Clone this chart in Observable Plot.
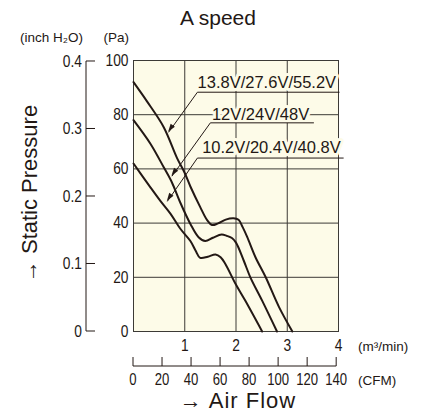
<!DOCTYPE html>
<html><head><meta charset="utf-8">
<script src="https://cdn.jsdelivr.net/npm/d3@7"></script>
<script src="https://cdn.jsdelivr.net/npm/@observablehq/plot@0.6"></script>
<style>
html,body{margin:0;padding:0;background:#fff;}
#chart{width:423px;height:414px;}
</style></head><body><div id="chart"></div>
<script>
// ---- data ----
const seriesNames = ["13.8V/27.6V/55.2V", "12V/24V/48V", "10.2V/20.4V/40.8V"];
const flowHigh = [0, 0.26, 0.59, 0.85, 1.0, 1.11, 1.3, 1.44, 1.53, 1.65, 1.8, 1.95, 2.05, 2.13, 2.22, 2.38, 2.58, 2.84, 3.1];
const paHigh   = [92, 85, 75.4, 64, 58.5, 53.5, 46, 41, 39.3, 39.9, 41.3, 41.8, 41.2, 38.5, 34.8, 27.4, 20, 9, 0];
const flowMid  = [0, 0.33, 0.59, 0.75, 0.91, 1.11, 1.27, 1.4, 1.55, 1.72, 1.82, 1.92, 2.0, 2.15, 2.28, 2.51, 2.8];
const paMid    = [78, 69.3, 60.6, 55, 47.7, 39.7, 34.8, 33.4, 34.6, 35.8, 35.3, 34.5, 32.8, 26.2, 20, 11.4, 0];
const flowLow  = [0, 0.33, 0.52, 0.72, 0.91, 1.11, 1.21, 1.3, 1.45, 1.6, 1.7, 1.79, 1.99, 2.18, 2.51];
const paLow    = [62, 53.2, 48.3, 43.5, 38, 33.4, 29.9, 27.2, 27.6, 28.4, 27.4, 25, 17.6, 11.4, 0];

const paTicks   = [0, 20, 40, 60, 80, 100];
const flowTicks = [1, 2, 3, 4];
const inchTicks = [0, 0.1, 0.2, 0.3, 0.4];
const inchLabels = ["0", "0.1", "0.2", "0.3", "0.4"];
const cfmTicks  = [0, 20, 40, 60, 80, 100, 120, 140];

const PA_PER_INCH = 249.089;
const M3MIN_PER_CFM = 0.0283168;

// ---- build table ----
const curves = [];
[[flowHigh, paHigh], [flowMid, paMid], [flowLow, paLow]].forEach(([f, p], i) => {
  f.forEach((v, j) => curves.push({series: seriesNames[i], flow: v, pa: p[j]}));
});

// annotation anchors in data units (flow, Pa)
const notes = [
  {text: seriesNames[0], tx: 1.25, ty: 89.7, ux1: 1.247, ux2: 4.02, uy: 88.3, ax: 0.685, ay: 73.5},
  {text: seriesNames[1], tx: 1.53, ty: 77.9, ux1: 1.50, ux2: 3.52, uy: 77.0, ax: 0.75, ay: 57.3},
  {text: seriesNames[2], tx: 1.34, ty: 65.7, ux1: 1.247, ux2: 4.10, uy: 64.0, ax: 0.66, ay: 48.0}
];

const bg = "#fdfbe8";
const ink = "#231815";
const gridC = "#3c3a36";
const font = "'Liberation Sans', Arial, Helvetica, sans-serif";
const tickFs = 16.8, squeeze = 0.82;

const plot = Plot.plot({
  width: 423, height: 414,
  marginLeft: 133, marginRight: 85, marginTop: 60, marginBottom: 83,
  style: {fontFamily: font, color: ink, background: "transparent", overflow: "visible"},
  x: {domain: [0, 4]},
  y: {domain: [0, 100]},
  marks: [
    Plot.frame({fill: bg, stroke: null}),
    Plot.gridX([1, 2, 3], {stroke: gridC, strokeOpacity: 1, strokeWidth: 1}),
    Plot.gridY([20, 40, 60, 80], {stroke: gridC, strokeOpacity: 1, strokeWidth: 1}),
    Plot.frame({stroke: gridC, strokeWidth: 1}),
    Plot.axisY(paTicks, {tickSize: 0, tickPadding: 5, fontSize: tickFs, label: null}),
    Plot.axisX(flowTicks, {tickSize: 0, tickPadding: 8, fontSize: tickFs, label: null}),
    Plot.line(curves, {x: "flow", y: "pa", z: "series", curve: "catmull-rom", stroke: ink, strokeWidth: 2}),
    Plot.text(notes, {x: "tx", y: "ty", text: "text", textAnchor: "start", lineAnchor: "bottom",
      fontSize: 16.5, fill: ink, stroke: bg, strokeWidth: 6}),
    Plot.link(notes, {x1: "ux1", y1: "uy", x2: "ux2", y2: "uy", stroke: ink, strokeWidth: 1}),
    Plot.link(notes, {x1: "ux1", y1: "uy", x2: "ax", y2: "ay", stroke: ink, strokeWidth: 1})
  ]
});

document.getElementById("chart").appendChild(plot);

// condensed look for the tick labels (scale about each label's anchor)
d3.select(plot).selectAll('g[aria-label$="tick label"] text').each(function () {
  const t = this.getAttribute("transform") || "";
  this.setAttribute("transform", `${t} scale(${squeeze},1)`);
});

// ---- extras drawn with the plot's own scales ----
const sx = plot.scale("x"), sy = plot.scale("y");
const X = v => sx.apply(v), Y = v => sy.apply(v);
const svg = d3.select(plot);
const g = svg.append("g").attr("fill", ink).attr("font-family", font).attr("text-anchor", "start");

// filled arrowheads
notes.forEach(n => {
  const x0 = X(n.ux1), y0 = Y(n.uy), x1 = X(n.ax), y1 = Y(n.ay);
  const dx = x1 - x0, dy = y1 - y0, L = Math.hypot(dx, dy);
  const ux = dx / L, uy = dy / L, len = 8, hw = 2.6;
  const bx = x1 - ux * len, by = y1 - uy * len;
  g.append("path")
    .attr("d", `M${x1},${y1}L${bx - uy * hw},${by + ux * hw}L${bx + uy * hw},${by - ux * hw}Z`)
    .attr("fill", ink);
});

function condensedText(parent, x, y, txt, anchor, fs) {
  return parent.append("text")
    .attr("transform", `translate(${x},${y}) scale(${squeeze},1)`)
    .attr("dy", "0.35em").attr("text-anchor", anchor)
    .attr("font-size", fs || tickFs).text(txt);
}

// inch H2O axis (left)
const axX = X(0) - 47;
const ga = g.append("g");
ga.append("line").attr("x1", axX).attr("x2", axX)
  .attr("y1", Y(0)).attr("y2", Y(0.4 * PA_PER_INCH)).attr("stroke", ink).attr("stroke-width", 1);
inchTicks.forEach((t, i) => {
  const y = Y(t * PA_PER_INCH);
  ga.append("line").attr("x1", axX).attr("x2", axX + 9).attr("y1", y).attr("y2", y)
    .attr("stroke", ink).attr("stroke-width", 1);
  condensedText(ga, axX - 4, y, inchLabels[i], "end");
});

// CFM axis (bottom)
const cy = Y(0) + 35;
const gc = g.append("g");
gc.append("line").attr("x1", X(0)).attr("x2", X(140 * M3MIN_PER_CFM))
  .attr("y1", cy).attr("y2", cy).attr("stroke", ink).attr("stroke-width", 1);
cfmTicks.forEach(t => {
  const x = X(t * M3MIN_PER_CFM);
  gc.append("line").attr("x1", x).attr("x2", x).attr("y1", cy).attr("y2", cy - 9)
    .attr("stroke", ink).attr("stroke-width", 1);
  condensedText(gc, x, cy + 13, String(t), "middle", 16);
});

// unit labels
g.append("text").attr("x", X(4) + 20).attr("y", Y(0) + 15).attr("dy", "0.35em")
  .attr("font-size", 13.5).text("(m³/min)");
g.append("text").attr("x", X(4) + 20).attr("y", cy + 14).attr("dy", "0.35em")
  .attr("font-size", 13.5).text("(CFM)");
g.append("text").attr("x", 20).attr("y", 37).attr("dy", "0.35em")
  .attr("font-size", 13.5).text("(inch H₂O)");
g.append("text").attr("x", X(0) - 4).attr("y", 37).attr("dy", "0.35em")
  .attr("text-anchor", "end").attr("font-size", 13.5).text("(Pa)");

// title and axis titles
g.append("text").attr("x", 218).attr("y", 25).attr("text-anchor", "middle")
  .attr("font-size", 21).text("A speed");
g.append("text").attr("x", 238).attr("y", 408).attr("text-anchor", "middle")
  .attr("font-size", 22).attr("letter-spacing", 1).text("→ Air Flow");
g.append("text").attr("transform", `translate(37,${(Y(0) + Y(100)) / 2 - 2}) rotate(-90)`)
  .attr("text-anchor", "middle").attr("font-size", 22).text("→ Static Pressure");
</script>
</body></html>
